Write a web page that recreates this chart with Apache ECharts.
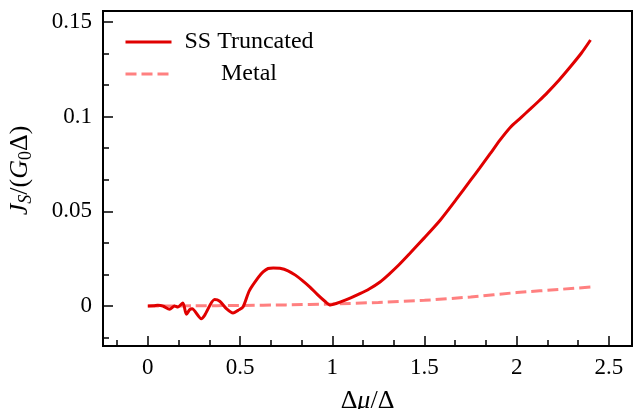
<!DOCTYPE html>
<html>
<head>
<meta charset="utf-8">
<script src="https://cdn.jsdelivr.net/npm/echarts@6/dist/echarts.min.js"></script>
<style>
  html, body { margin: 0; padding: 0; background: #fff; }
  #chart { width: 635px; height: 409px; }
</style>
</head>
<body>
<div id="chart"></div>
<script>
// SS Truncated curve
var ssX = [0, 0.032, 0.054, 0.082, 0.118, 0.145, 0.163, 0.19, 0.209, 0.227, 0.24, 0.29, 0.308,
  0.362, 0.39, 0.426, 0.462, 0.489, 0.516, 0.55, 0.6, 0.625, 0.652, 0.68, 0.716, 0.76, 0.8,
  0.84, 0.879, 0.92, 0.96, 0.99, 1.0, 1.042, 1.1, 1.15, 1.2, 1.259, 1.31, 1.359, 1.42, 1.5,
  1.585, 1.67, 1.75, 1.8, 1.857, 1.91, 1.966, 2.02, 2.074, 2.12, 2.165, 2.23, 2.292, 2.35, 2.4];
var ssY = [0, 0.0001, 0.0004, 0, -0.0017, 0, -0.0005, 0.0016, -0.0044, -0.0019, -0.0015, -0.0067, -0.0049,
  0.0034, 0.0025, -0.0014, -0.0037, -0.0023, -0.0005, 0.008, 0.0152, 0.018, 0.0198, 0.0201, 0.0199, 0.0186, 0.0163,
  0.0133, 0.010, 0.006, 0.0025, 0.0005, 0.0007, 0.0021, 0.0043, 0.0065, 0.009, 0.0127, 0.017, 0.0215, 0.0277, 0.0361,
  0.0453, 0.0560, 0.0664, 0.0729, 0.0805, 0.0877, 0.0944, 0.0992, 0.1040, 0.1082, 0.1125, 0.1193, 0.1264, 0.1334, 0.1404];

// Metal curve
var metalX = [0, 0.25, 0.5, 0.75, 1, 1.25, 1.5, 1.75, 2, 2.25, 2.4];
var metalY = [0, 0.0001, 0.0003, 0.0006, 0.0011, 0.0019, 0.003, 0.0048, 0.0071, 0.0089, 0.0100];

// ticks
var xMajor = [0, 0.5, 1, 1.5, 2, 2.5];
var xMinor = [-1/6, 1/6, 1/3, 2/3, 5/6, 7/6, 4/3, 5/3, 11/6, 13/6, 7/3];
var yMajor = [0, 0.05, 0.1, 0.15];
var yMinor = [-0.05/3, 0.05/3, 0.1/3, 0.2/3, 0.25/3, 0.35/3, 0.4/3];

var xMin = -0.243, xMax = 2.625;
var yMin = -0.0211, yMax = 0.1557;

function pairs(xs, ys) {
  return xs.map(function (x, i) { return [x, ys[i]]; });
}

var font = 'Liberation Serif';
var red = '#e00000';
var pink = '#ff8080';

var myChart = echarts.init(document.getElementById('chart'));

var tickStyle = { color: '#000', width: 1.5 };

var option = {
  backgroundColor: '#fff',
  animation: false,
  grid: {
    left: 103, right: 3, top: 11, bottom: 63,
    outerBoundsMode: 'none',
    containLabel: false,
    show: true, borderColor: '#000', borderWidth: 2
  },
  legend: {
    left: 124, top: 30, padding: 0,
    orient: 'vertical',
    itemWidth: 46, itemHeight: 14, itemGap: 8,
    itemStyle: { opacity: 0 },
    formatter: function (name) { return '{c|' + name + '}'; },
    textStyle: {
      width: 145,
      rich: { c: { align: 'center', fontFamily: font, fontSize: 24, color: '#000' } }
    },
    data: [
      { name: 'SS Truncated', lineStyle: { width: 3 } },
      { name: 'Metal', lineStyle: { width: 3 } }
    ]
  },
  xAxis: [{
    type: 'value', min: xMin, max: xMax, position: 'bottom',
    axisLine: { show: false, onZero: false },
    splitLine: { show: false },
    axisTick: { inside: true, length: 10, customValues: xMajor, lineStyle: tickStyle },
    axisLabel: { customValues: xMajor, margin: 10, fontFamily: font, fontSize: 23, color: '#000' },
    name: '{n|Δ}{i|μ}{n|/Δ}',
    nameLocation: 'middle', nameGap: 42,
    nameTextStyle: {
      rich: {
        n: { fontFamily: font, fontSize: 26, color: '#000' },
        i: { fontFamily: font, fontSize: 26, fontStyle: 'italic', color: '#000' }
      }
    }
  }, {
    type: 'value', min: xMin, max: xMax, position: 'bottom',
    axisLine: { show: false, onZero: false },
    splitLine: { show: false },
    axisLabel: { show: false },
    axisTick: { inside: true, length: 6, customValues: xMinor, lineStyle: tickStyle }
  }],
  yAxis: [{
    type: 'value', min: yMin, max: yMax, position: 'left',
    axisLine: { show: false, onZero: false },
    splitLine: { show: false },
    axisTick: { inside: true, length: 10, customValues: yMajor, lineStyle: tickStyle },
    axisLabel: { customValues: yMajor, margin: 11, fontFamily: font, fontSize: 23, color: '#000' },
    name: '{i|J}{s|S}{n|/(}{i|G}{z|0}{n|Δ)}',
    nameLocation: 'middle', nameGap: 68, nameRotate: 90,
    nameTextStyle: {
      padding: [0, 0, 0, 16],
      rich: {
        n: { fontFamily: font, fontSize: 26, lineHeight: 30, color: '#000' },
        i: { fontFamily: font, fontSize: 26, lineHeight: 30, fontStyle: 'italic', color: '#000' },
        s: { fontFamily: font, fontSize: 18, lineHeight: 18, fontStyle: 'italic', verticalAlign: 'bottom', color: '#000' },
        z: { fontFamily: font, fontSize: 18, lineHeight: 18, verticalAlign: 'bottom', color: '#000' }
      }
    }
  }, {
    type: 'value', min: yMin, max: yMax, position: 'left',
    axisLine: { show: false, onZero: false },
    splitLine: { show: false },
    axisLabel: { show: false },
    axisTick: { inside: true, length: 6, customValues: yMinor, lineStyle: tickStyle }
  }],
  series: [{
    name: 'SS Truncated',
    type: 'line',
    symbol: 'none',
    smooth: 0.25,
    data: pairs(ssX, ssY),
    lineStyle: { color: red, width: 3 },
    itemStyle: { color: red },
    z: 3
  }, {
    name: 'Metal',
    type: 'line',
    symbol: 'none',
    smooth: 0.25,
    data: pairs(metalX, metalY),
    lineStyle: { color: pink, width: 3, type: [11, 5] },
    itemStyle: { color: pink },
    z: 2
  }]
};

myChart.setOption(option);
</script>
</body>
</html>
